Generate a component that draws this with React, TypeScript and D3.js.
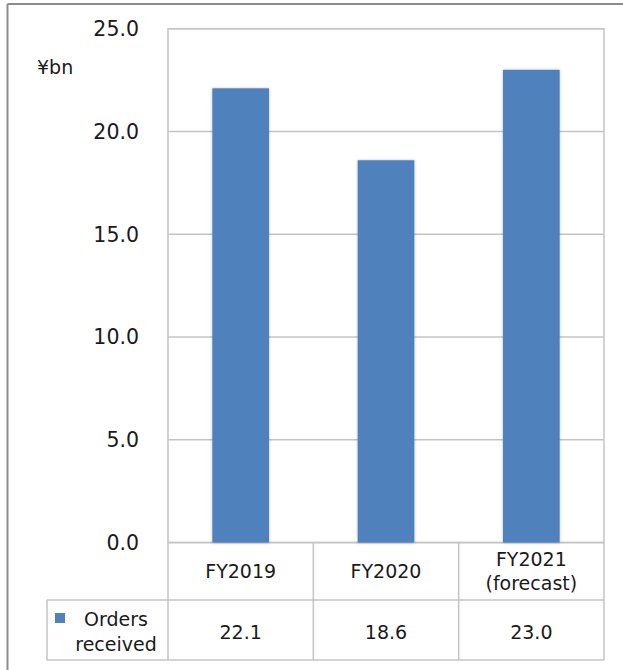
import React from "react";
import * as d3 from "d3";

const categories: string[][] = [["FY2019"], ["FY2020"], ["FY2021", "(forecast)"]];
const values: number[] = [22.1, 18.6, 23.0];
const valueLabels: string[] = ["22.1", "18.6", "23.0"];
const yTicks: number[] = [0, 5, 10, 15, 20, 25];
const seriesName: string[] = ["Orders", "received"];
const unitLabel = "¥bn";

const W = 623;
const H = 670;
const FONT = "'DejaVu Sans', sans-serif";
const BAR = "#4F81BD";
const GRID = "#c4c4c4";

export default function App() {
  const left = 168, right = 604, top = 28.7, bottom = 542.6;
  const y = d3.scaleLinear().domain([0, 25]).range([bottom, top]);
  const x = d3.scaleBand<number>().domain(d3.range(values.length)).range([left, right]).paddingInner(0.61).paddingOuter(0.305);
  const xc = d3.scaleBand<number>().domain(d3.range(values.length)).range([left, right]);
  const headerBottom = 600;
  const tableBottom = 660;
  const legendLeft = 47;

  return (
    <svg width={W} height={H} style={{ position: "absolute", left: 0, top: 0, background: "#fff" }} fontFamily={FONT}>
      <defs>
        <filter id="sh" x="-20%" y="-10%" width="140%" height="120%">
          <feDropShadow dx="0" dy="0" stdDeviation="1.5" floodColor="#000" floodOpacity="0.25" />
        </filter>
      </defs>
      {/* outer frame */}
      <line x1={7.5} y1={4} x2={W} y2={4} stroke="#8c8c8c" strokeWidth={2} />
      <line x1={7.5} y1={4} x2={7.5} y2={H} stroke="#8c8c8c" strokeWidth={2} />

      {/* gridlines */}
      {yTicks.map((t) => (
        <line key={"g" + t} x1={left} x2={right} y1={y(t)} y2={y(t)} stroke={GRID} strokeWidth={1.5} />
      ))}
      {/* plot border */}
      <rect x={left} y={top} width={right - left} height={bottom - top} fill="none" stroke={GRID} strokeWidth={1.5} />

      {/* y tick labels */}
      {yTicks.map((t) => (
        <text key={"t" + t} x={139} y={y(t)} dy="0.36em" textAnchor="end" fontSize={20.5} fill="#1a1a1a">
          {t.toFixed(1)}
        </text>
      ))}
      <text x={37} y={67} dy="0.36em" fontSize={19} fill="#1a1a1a">{unitLabel}</text>

      {/* bars */}
      {values.map((v, i) => (
        <rect key={"b" + i} x={x(i)!} y={y(v)} width={x.bandwidth()} height={bottom - y(v)} fill={BAR} filter="url(#sh)" />
      ))}

      {/* table */}
      <g stroke={GRID} strokeWidth={1.5} fill="none">
        <line x1={left} x2={right} y1={headerBottom} y2={headerBottom} />
        <line x1={legendLeft} x2={left} y1={headerBottom} y2={headerBottom} />
        <line x1={legendLeft} x2={right} y1={tableBottom} y2={tableBottom} />
        <line x1={legendLeft} x2={legendLeft} y1={headerBottom} y2={tableBottom} />
        {d3.range(values.length + 1).map((i) => {
          const xx = i < values.length ? xc(i)! : right;
          return <line key={"v" + i} x1={xx} x2={xx} y1={bottom} y2={tableBottom} />;
        })}
      </g>
      {categories.map((lines, i) => {
        const cx = xc(i)! + xc.bandwidth() / 2;
        const mid = (bottom + headerBottom) / 2;
        const lh = 24;
        return (
          <text key={"c" + i} textAnchor="middle" fontSize={19} fill="#1a1a1a">
            {lines.map((l, j) => (
              <tspan key={j} x={cx} y={mid + (j - (lines.length - 1) / 2) * lh} dy="0.36em">{l}</tspan>
            ))}
          </text>
        );
      })}
      {valueLabels.map((s, i) => (
        <text key={"v" + i} x={xc(i)! + xc.bandwidth() / 2} y={(headerBottom + tableBottom) / 2 + 2} dy="0.36em" textAnchor="middle" fontSize={19} fill="#1a1a1a">
          {s}
        </text>
      ))}
      <rect x={55} y={613} width={10} height={10} fill={BAR} />
      <text textAnchor="middle" fontSize={19} fill="#1a1a1a">
        {seriesName.map((l, j) => (
          <tspan key={j} x={116} y={619 + j * 25} dy="0.36em">{l}</tspan>
        ))}
      </text>
    </svg>
  );
}
